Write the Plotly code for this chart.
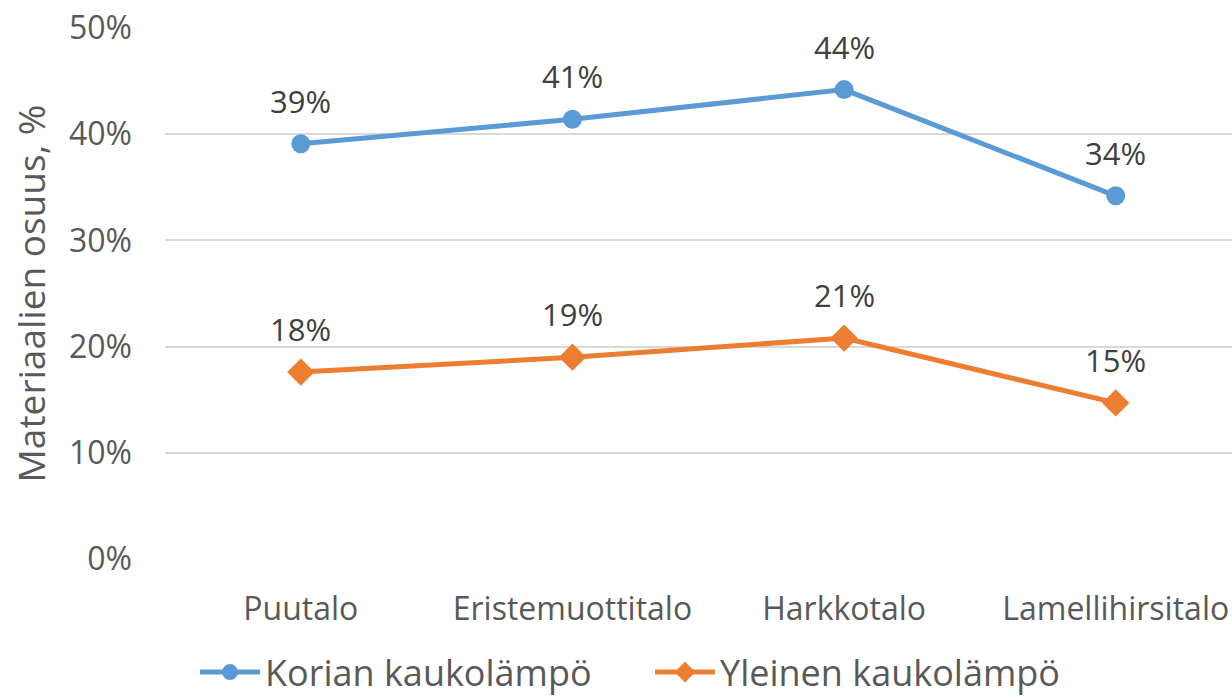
import plotly.graph_objects as go

categories = ["Puutalo", "Eristemuottitalo", "Harkkotalo", "Lamellihirsitalo"]
korian = [39.1, 41.4, 44.2, 34.2]
yleinen = [17.6, 19.0, 20.8, 14.7]
series_names = ["Korian kaukolämpö", "Yleinen kaukolämpö"]
y_ticks = [0, 10, 20, 30, 40, 50]
y_tick_labels = ["0%", "10%", "20%", "30%", "40%", "50%"]

BLUE = "#5B9BD5"
ORANGE = "#ED7D31"
TXT = "#595959"
FONT = "Open Sans, Liberation Sans, sans-serif"

fig = go.Figure()
fig.add_trace(go.Scatter(
    x=categories, y=korian, name=series_names[0], mode="lines+markers",
    line=dict(color=BLUE, width=5),
    marker=dict(symbol="circle", size=19, color=BLUE),
))
fig.add_trace(go.Scatter(
    x=categories, y=yleinen, name=series_names[1], mode="lines+markers",
    line=dict(color=ORANGE, width=5),
    marker=dict(symbol="diamond", size=21, color=ORANGE),
))

for vals in (korian, yleinen):
    for c, v in zip(categories, vals):
        fig.add_annotation(
            x=c, y=v, text=f"{round(v):d}%", showarrow=False,
            yanchor="bottom", yshift=20,
            font=dict(family=FONT, size=31, color="#404040"),
        )

fig.update_layout(
    width=1232, height=698,
    margin=dict(l=165, r=0, t=28, b=139),
    paper_bgcolor="white", plot_bgcolor="white",
    font=dict(family=FONT, color=TXT),
    showlegend=True,
    legend=dict(
        orientation="h", xref="container", yref="container",
        x=0.1583, xanchor="left", y=0.08, yanchor="top",
        font=dict(family=FONT, size=36, color=TXT),
        itemwidth=60, entrywidth=380, entrywidthmode="pixels", tracegroupgap=0,
    ),
)
fig.update_xaxes(
    type="category", range=[-0.5, 3.428],
    showgrid=False, showline=False, zeroline=False,
    tickfont=dict(family=FONT, size=32, color=TXT),
    ticks="", ticklabelstandoff=28, automargin=False,
)
fig.update_yaxes(
    range=[0, 50], tickvals=y_ticks, ticktext=y_tick_labels,
    showgrid=True, gridcolor="#D9D9D9", gridwidth=2,
    zeroline=False, showline=False,
    tickfont=dict(family=FONT, size=32, color=TXT),
    ticks="", ticklabelstandoff=32, automargin=False,
    title=dict(text="Materiaalien osuus, %", font=dict(family=FONT, size=37, color=TXT), standoff=12),
)

fig.write_html("out.html", config={"displayModeBar": False},
               post_script="document.body.style.margin='0';")
